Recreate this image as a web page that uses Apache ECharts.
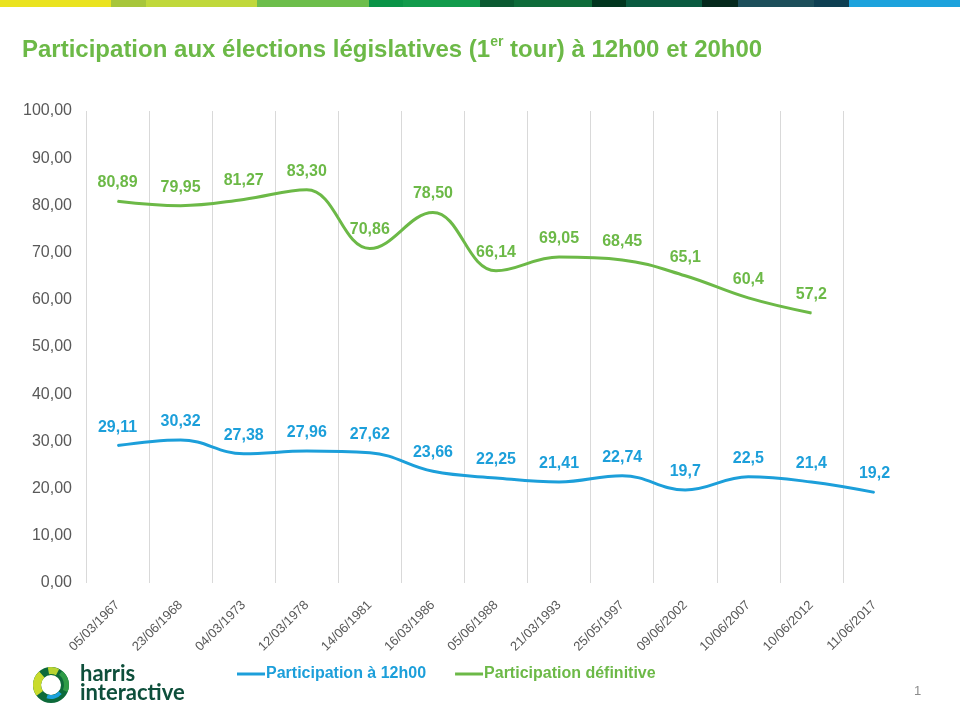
<!DOCTYPE html>
<html><head><meta charset="utf-8">
<script src="https://cdn.jsdelivr.net/npm/echarts@6/dist/echarts.min.js"></script>
<style>html,body{margin:0;padding:0;background:#fff}#c{width:960px;height:720px}</style>
</head><body><div id="c"></div>
<script>
const categories = ['05/03/1967','23/06/1968','04/03/1973','12/03/1978','14/06/1981','16/03/1986','05/06/1988','21/03/1993','25/05/1997','09/06/2002','10/06/2007','10/06/2012','11/06/2017'];
const noonValues = [29.11, 30.32, 27.38, 27.96, 27.62, 23.66, 22.25, 21.41, 22.74, 19.7, 22.5, 21.4, 19.2];
const noonLabels = ['29,11','30,32','27,38','27,96','27,62','23,66','22,25','21,41','22,74','19,7','22,5','21,4','19,2'];
const finalValues = [80.89, 79.95, 81.27, 83.30, 70.86, 78.50, 66.14, 69.05, 68.45, 65.1, 60.4, 57.2, null];
const finalLabels = ['80,89','79,95','81,27','83,30','70,86','78,50','66,14','69,05','68,45','65,1','60,4','57,2',''];
const yMin = 0, yMax = 100, yStep = 10;
const seriesNames = ['Participation à 12h00', 'Participation définitive'];

const BLUE = '#1C9FDA', GREEN = '#6CB947', GREY = '#595959';
const FONT = '"Liberation Sans", Arial, sans-serif';

const barColors = [
  [0,111,'#EAE31F'],[111,146,'#A7C63B'],[146,257,'#C0D83B'],[257,369,'#6DBE4B'],
  [369,403,'#0A9447'],[403,480,'#129B4C'],[480,514,'#0B5A32'],[514,592,'#0E6B3A'],
  [592,626,'#02361F'],[626,702,'#0A5A40'],[702,738,'#05291D'],[738,814,'#1C4E5A'],
  [814,849,'#0E3F52'],[849,960,'#1CA2DC']
];
const graphics = barColors.map(([a,b,c]) => ({type:'rect', shape:{x:a,y:0,width:b-a,height:7}, style:{fill:c}, silent:true}));
// logo
const lx = 51, ly = 685;
graphics.push(
  {type:'sector', shape:{cx:lx,cy:ly,r:18,r0:10,startAngle:0,endAngle:Math.PI*2}, style:{fill:'#0D6A3A'}},
  {type:'sector', shape:{cx:lx,cy:ly,r:18,r0:10,startAngle:2.5,endAngle:4.0}, style:{fill:'#C9DB2C'}},
  {type:'sector', shape:{cx:lx,cy:ly,r:18,r0:11,startAngle:-1.75,endAngle:-1.1}, style:{fill:'#B8D433'}},
  {type:'sector', shape:{cx:lx,cy:ly,r:18,r0:13,startAngle:-0.9,endAngle:0.4}, style:{fill:'#2F9B47'}},
  {type:'sector', shape:{cx:lx,cy:ly,r:14,r0:10,startAngle:0.7,endAngle:1.9}, style:{fill:'#1CA2DC'}},
  {type:'text', left:80, top:663, style:{text:'harris', font:'bold 22px Lato, "Open Sans", sans-serif', fill:'#0E4F3B'}},
  {type:'text', left:80, top:682, style:{text:'interactive', font:'bold 22px Lato, "Open Sans", sans-serif', fill:'#0E4F3B'}},
  {type:'text', left:914, top:685, style:{text:'1', font:'13px ' + FONT, fill:'#8C8C8C'}}
);

const chart = echarts.init(document.getElementById('c'));
chart.setOption({
  backgroundColor:'#fff',
  animation:false,
  title:{
    left:17, top:30,
    text:'{a|Participation aux élections législatives (1}{s|er}{a| tour) à 12h00 et 20h00}',
    textStyle:{rich:{
      a:{fontFamily:FONT, fontWeight:'bold', fontSize:24, color:GREEN, lineHeight:30},
      s:{fontFamily:FONT, fontWeight:'bold', fontSize:14, color:GREEN, lineHeight:30, verticalAlign:'top', padding:[0,0,10,0]}
    }}
  },
  legend:{
    top:661, left:232, itemGap:29, itemWidth:28, itemHeight:3,
    textStyle:{fontFamily:FONT, fontWeight:'bold', fontSize:16, padding:[0,0,0,-4]},
    data:[{name:seriesNames[0], icon:'rect', textStyle:{color:BLUE}}, {name:seriesNames[1], icon:'rect', textStyle:{color:GREEN}}]
  },
  grid:{left:86, right:54, top:111, bottom:137},
  xAxis:{
    type:'category', data:categories, boundaryGap:true,
    axisLine:{show:false}, axisTick:{show:false},
    splitLine:{show:true, showMaxLine:false, lineStyle:{color:'#D9D9D9', width:1}},
    axisLabel:{rotate:45, fontFamily:FONT, fontSize:13, color:GREY, margin:20}
  },
  yAxis:{
    type:'value', min:yMin, max:yMax, interval:yStep,
    axisLine:{show:false}, axisTick:{show:false}, splitLine:{show:false},
    axisLabel:{fontFamily:FONT, fontSize:16, color:GREY, margin:14, formatter:v => v.toFixed(2).replace('.', ',')}
  },
  series:[
    {name:seriesNames[0], type:'line', data:noonValues, smooth:0.4, symbol:'circle', symbolSize:1, showSymbol:true,
     lineStyle:{color:BLUE, width:3}, itemStyle:{color:BLUE},
     label:{show:true, position:'top', distance:10, fontFamily:FONT, fontWeight:'bold', fontSize:16, color:BLUE, formatter:p => noonLabels[p.dataIndex]}},
    {name:seriesNames[1], type:'line', data:finalValues, smooth:0.4, symbol:'circle', symbolSize:1, showSymbol:true,
     lineStyle:{color:GREEN, width:3}, itemStyle:{color:GREEN},
     label:{show:true, position:'top', distance:10, fontFamily:FONT, fontWeight:'bold', fontSize:16, color:GREEN, formatter:p => finalLabels[p.dataIndex]}}
  ],
  graphic:graphics
});
</script></body></html>
